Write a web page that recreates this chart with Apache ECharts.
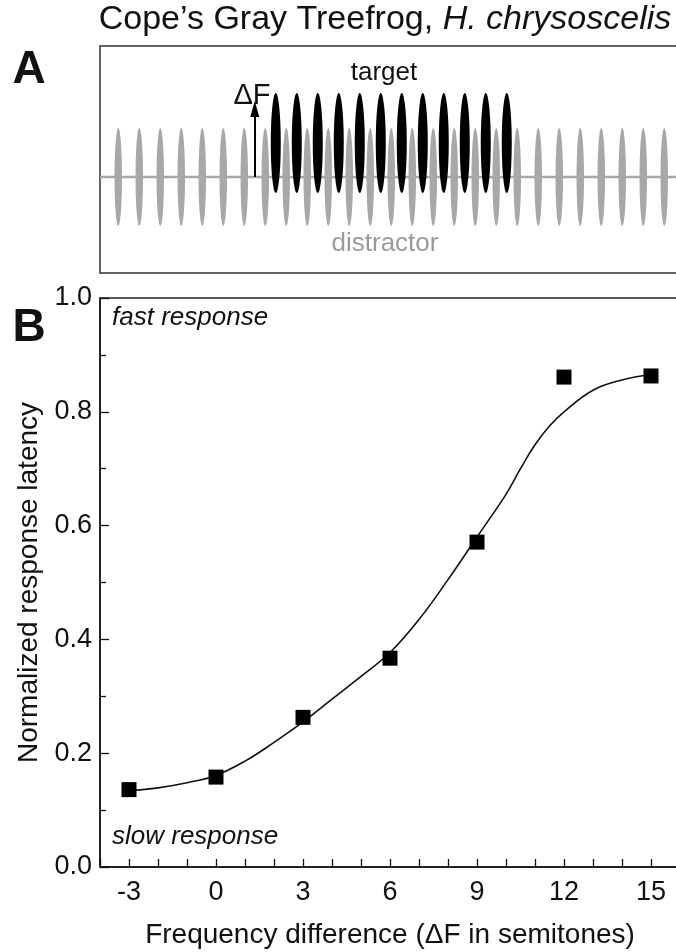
<!DOCTYPE html>
<html>
<head>
<meta charset="utf-8">
<script src="https://cdn.jsdelivr.net/npm/echarts@6/dist/echarts.min.js"></script>
<style>
html,body{margin:0;padding:0;background:#fff;}
#c{width:676px;height:952px;}
</style>
</head>
<body>
<div id="c"></div>
<script>
// ---------- Panel B data ----------
var deltaF = [-3, 0, 3, 6, 9, 12, 15];
var latency = [0.136, 0.158, 0.263, 0.367, 0.571, 0.861, 0.863];
// fitted curve
var fitX = [-3, -2, -1, 0, 1, 2, 3, 4, 5, 6, 7, 8, 9, 10, 10.5, 11, 11.5, 12, 13, 14, 15];
var fitY = [0.134, 0.139, 0.148, 0.161, 0.186, 0.219, 0.255, 0.295, 0.335, 0.377, 0.435, 0.505, 0.580, 0.655, 0.700, 0.742, 0.775, 0.800, 0.838, 0.856, 0.865];
var xTickLabels = [-3, 0, 3, 6, 9, 12, 15];
var yTickLabels = [0.0, 0.2, 0.4, 0.6, 0.8, 1.0];

// ---------- Panel A data (pulse index, frequency step) ----------
var distractorPulses = [0,1,2,3,4,5,6,7,8,9,10,11,12,13,14,15,16,17,18,19,20,21,22,23,24,25,26];
var targetPulses = [7.5,8.5,9.5,10.5,11.5,12.5,13.5,14.5,15.5,16.5,17.5,18.5];
var distractorLevel = 0;
var targetLevel = 1;
var arrowPulse = 6.5;
var arrowTop = 2;

var FONT = '"Liberation Sans", Arial, Helvetica, sans-serif';

var chart = echarts.init(document.getElementById('c'), null, {renderer: 'canvas'});

var option = {
  backgroundColor: '#fff',
  animation: false,
  textStyle: {fontFamily: FONT},
  grid: [
    {left: 100, top: 46, width: 580, height: 227, show: true, borderColor: '#333', borderWidth: 1.5, backgroundColor: 'transparent', outerBoundsMode: 'none', containLabel: false},
    {left: 100, top: 298, width: 580, height: 569, show: true, borderColor: '#222', borderWidth: 1.5, backgroundColor: 'transparent', outerBoundsMode: 'none', containLabel: false}
  ],
  xAxis: [
    {gridIndex: 0, type: 'value', min: -0.87, max: 26.75, show: false},
    {gridIndex: 1, type: 'value', min: -4, max: 16, interval: 1,
      axisLine: {show: true, onZero: false, lineStyle: {color: '#111', width: 1.5}},
      axisTick: {show: true, inside: true, length: 8, lineStyle: {color: '#111', width: 1.3}},
      axisLabel: {show: true, margin: 12, fontSize: 27, color: '#111', fontFamily: FONT, showMinLabel: true, showMaxLabel: true,
        formatter: function (v) { return xTickLabels.indexOf(v) >= 0 ? String(v) : ''; }},
      splitLine: {show: false},
      name: 'Frequency difference (\u0394F in semitones)', nameLocation: 'middle', nameGap: 54,
      nameTextStyle: {fontSize: 28, color: '#111', fontFamily: FONT}
    }
  ],
  yAxis: [
    {gridIndex: 0, type: 'value', min: -2.82, max: 3.85, show: false},
    {gridIndex: 1, type: 'value', min: 0, max: 1, interval: 0.2,
      axisLine: {show: true, onZero: false, lineStyle: {color: '#111', width: 1.5}},
      axisTick: {show: true, inside: true, length: 9, lineStyle: {color: '#111', width: 1.3}},
      minorTick: {show: true, splitNumber: 2, length: 6, lineStyle: {color: '#111', width: 1.3}},
      axisLabel: {show: true, margin: 8, fontSize: 27, color: '#111', fontFamily: FONT,
        formatter: function (v) { return v.toFixed(1); }},
      splitLine: {show: false},
      name: 'Normalized response latency', nameLocation: 'middle', nameGap: 52, nameRotate: 90,
      nameTextStyle: {fontSize: 28, color: '#111', fontFamily: FONT}
    }
  ],
  series: [
    {type: 'line', xAxisIndex: 0, yAxisIndex: 0, z: 1,
      data: [[-0.87, distractorLevel], [26.75, distractorLevel]],
      showSymbol: false, symbol: 'none', lineStyle: {color: '#a8a8a8', width: 2.5, opacity: 1}, silent: true},
    {type: 'scatter', xAxisIndex: 0, yAxisIndex: 0, z: 2,
      data: distractorPulses.map(function (p) { return [p, distractorLevel]; }),
      symbol: 'circle', symbolSize: [7.5, 98], itemStyle: {color: '#a8a8a8', opacity: 1}, silent: true},
    {type: 'scatter', xAxisIndex: 0, yAxisIndex: 0, z: 3,
      data: targetPulses.map(function (p) { return [p, targetLevel]; }),
      symbol: 'circle', symbolSize: [10, 100], itemStyle: {color: '#000', opacity: 1}, silent: true},
    {type: 'line', xAxisIndex: 0, yAxisIndex: 0, z: 4, data: [], silent: true,
      markLine: {silent: true, symbol: ['none', 'triangle'], symbolSize: [9, 16], label: {show: false},
        lineStyle: {color: '#000', width: 2, type: 'solid', opacity: 1},
        data: [[{coord: [arrowPulse, distractorLevel]}, {coord: [arrowPulse, arrowTop]}]]}},
    {type: 'line', xAxisIndex: 1, yAxisIndex: 1, z: 2,
      data: fitX.map(function (x, i) { return [x, fitY[i]]; }),
      smooth: 0.4, showSymbol: false, symbol: 'none', lineStyle: {color: '#111', width: 1.6, opacity: 1}, silent: true},
    {type: 'scatter', xAxisIndex: 1, yAxisIndex: 1, z: 3,
      data: deltaF.map(function (x, i) { return [x, latency[i]]; }),
      symbol: 'rect', symbolSize: 15, itemStyle: {color: '#000', opacity: 1}, silent: true}
  ],
  graphic: [
    {type: 'text', x: 385, y: 20, style: {
      text: '{a|Cope\u2019s Gray Treefrog, }{i|H. chrysoscelis}',
      align: 'center', verticalAlign: 'middle',
      rich: {
        a: {fontSize: 34, fontFamily: FONT, fill: '#111'},
        i: {fontSize: 34, fontFamily: FONT, fill: '#111', fontStyle: 'italic'}
      }}},
    {type: 'text', x: 29, y: 70, style: {text: 'A', fontSize: 46, fontWeight: 'bold', fontFamily: FONT, fill: '#111', align: 'center', verticalAlign: 'middle'}},
    {type: 'text', x: 29, y: 328, style: {text: 'B', fontSize: 46, fontWeight: 'bold', fontFamily: FONT, fill: '#111', align: 'center', verticalAlign: 'middle'}},
    {type: 'text', x: 384, y: 73, style: {text: 'target', fontSize: 26, fontFamily: FONT, fill: '#111', align: 'center', verticalAlign: 'middle'}},
    {type: 'text', x: 385, y: 244, style: {text: 'distractor', fontSize: 26, fontFamily: FONT, fill: '#9a9a9a', align: 'center', verticalAlign: 'middle'}},
    {type: 'text', x: 252, y: 96, style: {text: '\u0394F', fontSize: 29, fontFamily: FONT, fill: '#111', align: 'center', verticalAlign: 'middle'}},
    {type: 'text', x: 112, y: 318, style: {text: 'fast response', fontSize: 26, fontStyle: 'italic', fontFamily: FONT, fill: '#111', align: 'left', verticalAlign: 'middle'}},
    {type: 'text', x: 112, y: 837, style: {text: 'slow response', fontSize: 26, fontStyle: 'italic', fontFamily: FONT, fill: '#111', align: 'left', verticalAlign: 'middle'}}
  ]
};
chart.setOption(option);
</script>
</body>
</html>
